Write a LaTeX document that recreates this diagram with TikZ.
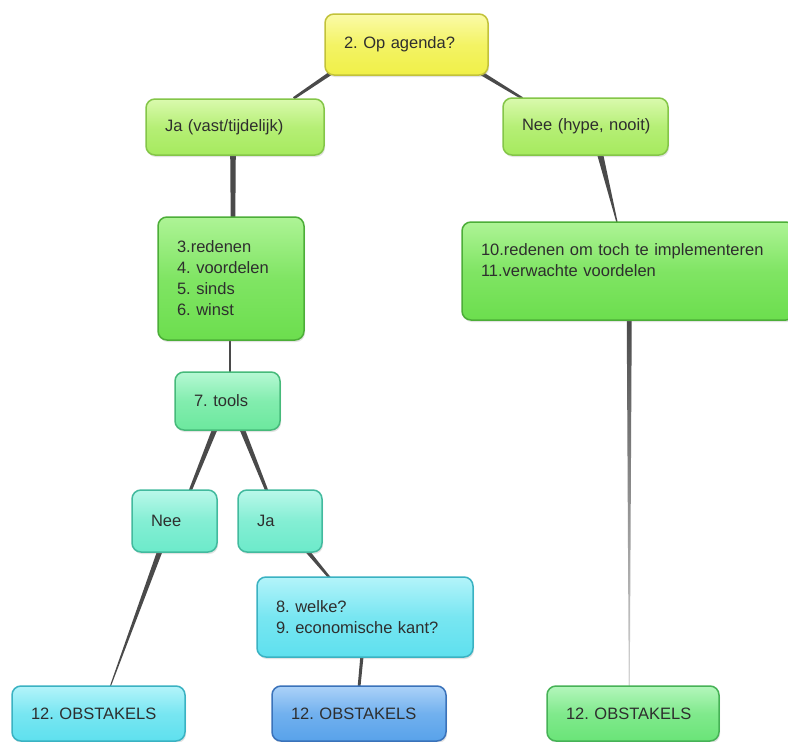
\documentclass[tikz,border=0pt]{standalone}
\usepackage{fontspec}
\setmainfont{Liberation Sans}
\usetikzlibrary{calc,shadows}
\frenchspacing

% box palettes: F = body, L = light top, D = border
\definecolor{yelF}{HTML}{F0F048}\definecolor{yelL}{HTML}{FBFBA8}\definecolor{yelD}{HTML}{C2C23A}
\definecolor{limF}{HTML}{A6EA5E}\definecolor{limL}{HTML}{DAFAAE}\definecolor{limD}{HTML}{84C648}
\definecolor{grnF}{HTML}{6CDE4E}\definecolor{grnL}{HTML}{AEF496}\definecolor{grnD}{HTML}{4CAE38}
\definecolor{mntF}{HTML}{6CE89E}\definecolor{mntL}{HTML}{B6F8D4}\definecolor{mntD}{HTML}{46BA7A}
\definecolor{aquF}{HTML}{6CEACA}\definecolor{aquL}{HTML}{BAF8EA}\definecolor{aquD}{HTML}{42BA9E}
\definecolor{cyaF}{HTML}{5EE0EE}\definecolor{cyaL}{HTML}{B4F4FA}\definecolor{cyaD}{HTML}{3AB2C2}
\definecolor{bluF}{HTML}{58A2EA}\definecolor{bluL}{HTML}{ACD2F8}\definecolor{bluD}{HTML}{3A72BA}
\definecolor{gr2F}{HTML}{6AE478}\definecolor{gr2L}{HTML}{B4F6BC}\definecolor{gr2D}{HTML}{46B256}
\definecolor{txt}{HTML}{2E2E2E}
\definecolor{lineC}{HTML}{4A4A4A}

\pgfdeclarelayer{background}
\pgfsetlayers{background,main}

\tikzset{
  box/.style={rounded corners=9pt, line width=1.5pt, draw=#1D,
    top color=#1L, bottom color=#1F, middle color=#1F!70!#1L,
    inner xsep=19pt, inner ysep=3pt, align=left, text=txt,
    font=\fontsize{16.5}{21}\selectfont,
    drop shadow={opacity=0.22, shadow xshift=1pt, shadow yshift=-2pt}},
  conn/.style={fill=lineC},
  fadeconn/.style={top color=lineC, bottom color=lineC!22},
}

% tapered connector: start, end, half width at start, half width at end
\newcommand\taperline[5][conn]{%
  \path[#1] ($(#2)!#4!90:(#3)$) -- ($(#2)!#4!-90:(#3)$)
    -- ($(#3)!#5!90:(#2)$) -- ($(#3)!#5!-90:(#2)$) -- cycle;}

\begin{document}
\begin{tikzpicture}[x=1pt, y=-1pt]
\useasboundingbox (0,0) rectangle (788,742);

% boxes
\node[box=yel, text width=125pt, minimum height=61pt] (top)   at (406.5,44.5) {2. Op agenda?};
\node[box=lim, text width=140pt, minimum height=56pt] (jav)   at (235,127)    {Ja (vast/tijdelijk)};
\node[box=lim, text width=127pt, minimum height=57pt] (neeh)  at (585.5,126.5) {\mbox{Nee (hype, nooit)}};
\node[box=grn, text width=108pt, minimum height=123pt] (r3)   at (231,278.5)  {3.redenen\\4. voordelen\\5. sinds\\6. winst};
\node[box=grn, text width=295pt, minimum height=98pt] (r10)   at (628.5,271)  {10.redenen om toch te implementeren\\11.verwachte voordelen\\\mbox{}};
\node[box=mnt, text width=67pt, minimum height=58pt] (tools)  at (227.5,401)  {7. tools};
\node[box=aqu, text width=47pt, minimum height=62pt] (nee)    at (174.5,521)  {Nee};
\node[box=aqu, text width=46pt, minimum height=62pt] (ja)     at (280,521)    {Ja};
\node[box=cya, text width=178pt, minimum height=80pt] (welke) at (365,617)    {8. welke?\\9. economische kant?};
\node[box=cya, text width=135pt, minimum height=55pt] (o1)    at (98.5,713.5) {12. OBSTAKELS};
\node[box=blu, text width=136pt, minimum height=55pt] (o2)    at (359,713.5)  {12. OBSTAKELS};
\node[box=gr2, text width=134pt, minimum height=55pt] (o3)    at (633,713.5)  {12. OBSTAKELS};

% connector end points
\coordinate (a1) at ($(top.south west)+(10,-5)$);
\coordinate (b1) at ($(jav.north east)+(-31,0)$);
\coordinate (a2) at ($(top.south east)+(-10,-4)$);
\coordinate (b2) at ($(neeh.north west)+(20,1)$);
\coordinate (a3) at ($(jav.south)+(-2,-3)$);
\coordinate (b3) at ($(r3.north)+(2,3)$);
\coordinate (a4) at ($(r3.south)+(-1,-2)$);
\coordinate (b4) at ($(tools.north)+(2.5,2)$);
\coordinate (a5) at ($(neeh.south)+(14.5,-2)$);
\coordinate (b5) at ($(r10.north west)+(156,2)$);
\coordinate (a6) at ($(r10.south west)+(168,-2)$);
\coordinate (b6) at ($(o3.north west)+(83,2)$);
\coordinate (a7) at ($(tools.south)+(-12.5,-2)$);
\coordinate (b7) at ($(nee.north)+(15.5,2)$);
\coordinate (a8) at ($(tools.south)+(14.5,-2)$);
\coordinate (b8) at ($(ja.north)+(-13,2)$);
\coordinate (a9) at ($(nee.south)+(-14.5,-2)$);
\coordinate (b9) at ($(o1.north)+(11.5,2)$);
\coordinate (a10) at ($(ja.south)+(27,-2)$);
\coordinate (b10) at ($(welke.north)+(-35,2)$);
\coordinate (a11) at ($(welke.south)+(-3,-2)$);
\coordinate (b11) at ($(o2.north)+(0,2)$);

% connectors, drawn behind the boxes
\begin{pgfonlayer}{background}
\fill[white] (0,0) rectangle (788,742);
\taperline{a1}{b1}{2pt}{1.3pt}
\taperline{a2}{b2}{2pt}{1.2pt}
\taperline{a3}{b3}{2.8pt}{2.3pt}
\taperline{a4}{b4}{1pt}{1pt}
\taperline{a5}{b5}{3pt}{0.6pt}
\taperline[fadeconn]{a6}{b6}{2.5pt}{0.5pt}
\taperline{a7}{b7}{2.6pt}{1.5pt}
\taperline{a8}{b8}{2.6pt}{1.5pt}
\taperline{a9}{b9}{2.6pt}{0.5pt}
\taperline{a10}{b10}{2pt}{1.2pt}
\taperline{a11}{b11}{1.6pt}{1.4pt}
\end{pgfonlayer}
\end{tikzpicture}
\end{document}
